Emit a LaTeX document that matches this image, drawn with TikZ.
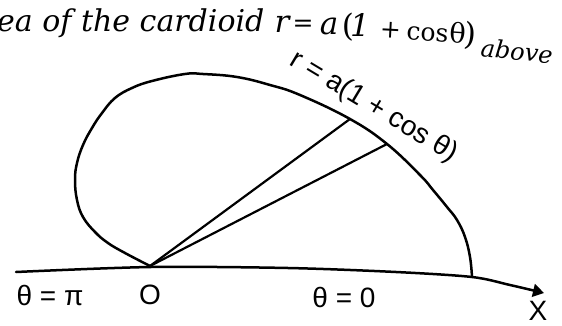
\documentclass[tikz,border=0pt]{standalone}
\usepackage{fontspec}
\newfontfamily\lab{Liberation Sans}
\newfontfamily\topf{DejaVu Serif}
\usetikzlibrary{arrows.meta}
\begin{document}
\begin{tikzpicture}[x=1pt,y=-1pt,
  curve/.style={line width=2.5pt, line join=round, line cap=round},
  ray/.style={line width=2.2pt},
  lbl/.style={font=\lab\fontsize{28}{30}\selectfont, inner sep=0pt},
  tt/.style={font=\topf\fontsize{31}{34}\selectfont, inner sep=0pt, anchor=base},
  ts/.style={font=\topf\fontsize{25}{27}\selectfont, inner sep=0pt, anchor=base}]
\useasboundingbox (0,0) rectangle (562,326);
\coordinate (O) at (150,266);
\coordinate (P1) at (350,119);
\coordinate (P2) at (387,144);
\coordinate (L) at (16,272);
\coordinate (Xend) at (544,293);
% cardioid
\draw[curve] plot[smooth, tension=0.7] coordinates {(O) (125,253) (108,243) (95,232) (83,217) (77,200) (75,180) (77,163) (83,145) (92,128) (102,113) (115,98) (132,88) (152,81) (185,74) (203,74) (237,77) (270,85) (300,95) (P1) (P2) (420,175) (433,190) (447,207) (457,220) (465,237) (470,257) (472,277)};
% axis
\draw[curve, -{Triangle[length=11pt,width=13pt]}] plot[smooth, tension=0.5] coordinates {(L) (151,267) (288,268) (396,272) (472,277) (510,285) (Xend)};
% rays
\draw[ray] (O) -- (P1);
\draw[ray] (O) -- (P2);
% labels
\node[lbl] (tpi) at (50,295) {θ = π};
\node[lbl] (o) at (150,295) {O};
\node[lbl] (t0) at (344,297) {θ = 0};
\node[lbl] (x) at (538,311) {X};
\node[lbl, rotate=-31] (eq) at (374,107) {r = a(1 + cos θ)};
% top text
\node[tt, anchor=base west, font=\topf\fontsize{30}{33}\selectfont] (top1) at (-3,32) {\itshape ea of the cardioid};
\node[tt] (tr) at (282,33) {\itshape r};
\node[ts] (teq) at (303,32) {=};
\node[tt] (ta) at (329,35) {\itshape a};
\node[tt] (tlp) at (348,37) {(};
\node[tt] (tone) at (360,37) {\itshape 1};
\node[ts, rotate=-3] (tplus) at (390,38) {+};
\node[ts, rotate=-4] (tcos) at (427,41) {cos};
\node[ts, rotate=-4, font=\topf\fontsize{27}{29}\selectfont] (tth) at (457,43) {θ};
\node[tt, rotate=-5] (trp) at (470,45) {)};
\node[tt, rotate=-6, font=\topf\fontsize{24}{26}\selectfont, anchor=base west] (tabove) at (480,56) {\itshape above};
\end{tikzpicture}
\end{document}
